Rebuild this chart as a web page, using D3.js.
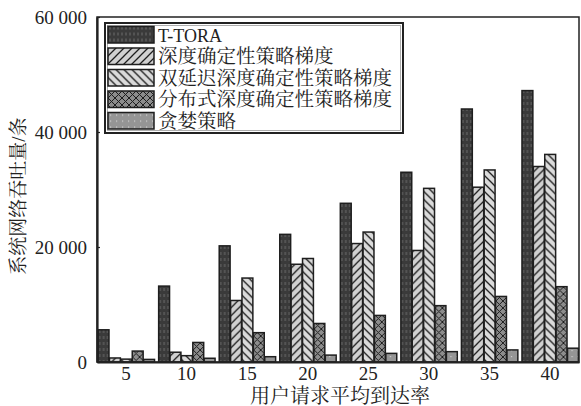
<!DOCTYPE html>
<html><head><meta charset="utf-8">
<script src="https://cdn.jsdelivr.net/npm/d3@7"></script>
<style>
html,body{margin:0;padding:0;background:#fff;}
svg{display:block;}
text{font-family:'Liberation Serif','Noto Serif CJK SC','Noto Sans CJK SC',serif;fill:#222;}
</style></head>
<body>
<svg id="chart" width="581" height="406"></svg>
<script>
const categories = ["5","10","15","20","25","30","35","40"];
const seriesNames = ["T-TORA","深度确定性策略梯度","双延迟深度确定性策略梯度","分布式深度确定性策略梯度","贪婪策略"];
const tTora   = [5600, 13200, 20200, 22200, 27600, 33000, 44000, 47200];
const ddpg    = [700, 1700, 10700, 17000, 20600, 19400, 30400, 34000];
const td3     = [500, 1100, 14600, 18000, 22600, 30200, 33400, 36100];
const d4pg    = [1900, 3400, 5100, 6700, 8100, 9800, 11400, 13100];
const greedy  = [450, 650, 920, 1200, 1500, 1800, 2100, 2400];
const yTicks  = [0, 20000, 40000, 60000];
const xTitle = "用户请求平均到达率";
const yTitle = "系统网络吞吐量/条";

const seriesValues = [tTora, ddpg, td3, d4pg, greedy];
const svg = d3.select("#chart");
const L = 97, R = 579, T = 17, B = 362;

// patterns
const defs = svg.append("defs");
function pat(id, w, h, bg, draw) {
  const p = defs.append("pattern").attr("id", id).attr("patternUnits", "userSpaceOnUse")
    .attr("width", w).attr("height", h);
  p.append("rect").attr("width", w).attr("height", h).attr("fill", bg);
  draw(p);
}
pat("pT", 4, 6, "#3a3a3a", p => {
  p.append("line").attr("x1", 2).attr("x2", 2).attr("y1", 0).attr("y2", 3).attr("stroke", "#6e6e6e").attr("stroke-width", 1);
});
pat("pD", 8, 8, "#d0d0d0", p => {
  p.append("path").attr("d", "M-2,10 L10,-2 M-2,2 L2,-2 M6,10 L10,6").attr("stroke", "#1e1e1e").attr("stroke-width", 1.3);
});
pat("pTD", 8, 8, "#dadada", p => {
  p.append("path").attr("d", "M-2,-2 L10,10 M-2,6 L2,10 M6,-2 L10,2").attr("stroke", "#1e1e1e").attr("stroke-width", 1.3);
});
pat("pX", 7, 7, "#8c8c8c", p => {
  p.append("path").attr("d", "M-1,-1 L8,8 M-1,8 L8,-1").attr("stroke", "#1e1e1e").attr("stroke-width", 1);
});
pat("pG", 6, 6, "#959595", p => {
  p.append("rect").attr("x", 2).attr("y", 2).attr("width", 1.2).attr("height", 1.2).attr("fill", "#d0d0d0");
});
const fills = ["url(#pT)", "url(#pD)", "url(#pTD)", "url(#pX)", "url(#pG)"];

const x0 = d3.scaleBand().domain(categories).range([L, R]).paddingInner(0.06).paddingOuter(0.01);
const x1 = d3.scaleBand().domain(d3.range(seriesNames.length)).range([0, x0.bandwidth()]);
const y = d3.scaleLinear().domain([0, 60000]).range([B, T]);

const fmt = d3.formatLocale({decimal: ".", thousands: " ", grouping: [3], currency: ["", ""]}).format(",d");

// bars
const groups = svg.append("g").selectAll("g").data(categories).join("g")
  .attr("transform", d => `translate(${x0(d)},0)`);
groups.selectAll("rect").data((d, i) => seriesValues.map((s, k) => ({k, v: s[i]}))).join("rect")
  .attr("x", d => x1(d.k) + 0.5)
  .attr("y", d => y(d.v))
  .attr("width", x1.bandwidth() - 0.5)
  .attr("height", d => B - y(d.v))
  .attr("fill", d => fills[d.k])
  .attr("stroke", "#1e1e1e").attr("stroke-width", 1.5);

// frame
svg.append("rect").attr("x", L).attr("y", T).attr("width", R - L).attr("height", B - T)
  .attr("fill", "none").attr("stroke", "#222").attr("stroke-width", 1.5);

// y axis
const yAxis = svg.append("g").attr("transform", `translate(${L},0)`)
  .call(d3.axisLeft(y).tickValues(yTicks).tickFormat(fmt).tickSizeInner(-3).tickSizeOuter(0).tickPadding(10));
yAxis.select(".domain").attr("stroke", "#222").attr("stroke-width", 2.2);
yAxis.selectAll(".tick line").attr("stroke", "#222").attr("stroke-width", 1.2);
yAxis.selectAll("text").attr("font-size", 19).attr("fill", "#222")
  .style("font-family", "'Liberation Serif',serif");

// x axis
const xAxis = svg.append("g").attr("transform", `translate(0,${B})`)
  .call(d3.axisBottom(x0).tickSize(0).tickPadding(5));
xAxis.select(".domain").attr("stroke", "#222").attr("stroke-width", 2.2);
xAxis.selectAll("text").attr("font-size", 19).attr("fill", "#222")
  .style("font-family", "'Liberation Serif',serif");

// titles
svg.append("text").attr("x", 340).attr("y", 403).attr("text-anchor", "middle")
  .attr("font-size", 20).text(xTitle);
svg.append("text").attr("transform", "translate(25,196) rotate(-90)").attr("text-anchor", "middle")
  .attr("font-size", 19).text(yTitle);

// legend
const lg = svg.append("g");
lg.append("rect").attr("x", 105).attr("y", 23).attr("width", 298).attr("height", 110)
  .attr("fill", "#fff").attr("stroke", "#222").attr("stroke-width", 2);
lg.append("rect").attr("x", 107.5).attr("y", 25.5).attr("width", 293).attr("height", 105)
  .attr("fill", "none").attr("stroke", "#999").attr("stroke-width", 0.8);
const rows = lg.selectAll("g.row").data(seriesNames).join("g").attr("class", "row")
  .attr("transform", (d, i) => `translate(108,${26.5 + i * 21.5})`);
rows.append("rect").attr("width", 46).attr("height", 16.5)
  .attr("fill", (d, i) => fills[i]).attr("stroke", "#1e1e1e").attr("stroke-width", 1.5);
rows.append("text").attr("x", 50).attr("y", 15).attr("font-size", (d, i) => i === 0 ? 18 : 19.5)
  .text(d => d);
</script>
</body></html>
